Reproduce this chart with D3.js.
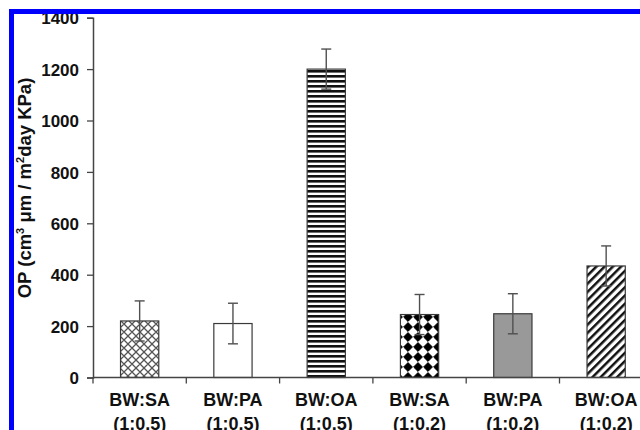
<!DOCTYPE html>
<html>
<head>
<meta charset="utf-8">
<script src="https://cdn.jsdelivr.net/npm/d3@7"></script>
<style>
  html, body { margin: 0; padding: 0; background: #fff; }
  svg { display: block; }
  text { font-family: Arial, "Liberation Sans", sans-serif; font-weight: bold; fill: #111; }
</style>
</head>
<body>
<svg id="chart" width="640" height="430"></svg>
<script>
// Blend ratios and permeability results
const mixtures = ["BW:SA", "BW:PA", "BW:OA", "BW:SA", "BW:PA", "BW:OA"];
const ratios   = ["(1:0.5)", "(1:0.5)", "(1:0.5)", "(1:0.2)", "(1:0.2)", "(1:0.2)"];
const opValues = [220, 210, 1200, 245, 248, 434];
const opErrors = [78, 79, 78, 78, 78, 78];
const fills    = ["url(#crosshatch)", "#ffffff", "url(#hstripes)", "url(#dots)", "#999999", "url(#diag)"];
const yTicks   = [0, 200, 400, 600, 800, 1000, 1200, 1400];

const svg = d3.select("#chart");
const W = 640, H = 430;

// Fill patterns for the bars
const defs = svg.append("defs");

const ch = defs.append("pattern").attr("id", "crosshatch")
  .attr("patternUnits", "userSpaceOnUse").attr("width", 8).attr("height", 8);
ch.append("rect").attr("width", 8).attr("height", 8).attr("fill", "#fff");
ch.append("path").attr("d", "M0,0 L8,8 M8,0 L0,8 M-4,4 L4,12 M4,-4 L12,4 M4,-4 L-4,4 M12,4 L4,12")
  .attr("stroke", "#555").attr("stroke-width", 1.3).attr("fill", "none");

const hs = defs.append("pattern").attr("id", "hstripes")
  .attr("patternUnits", "userSpaceOnUse").attr("width", 10).attr("height", 5);
hs.append("rect").attr("width", 10).attr("height", 5).attr("fill", "#fff");
hs.append("rect").attr("y", 0).attr("width", 10).attr("height", 2.6).attr("fill", "#111");

const dt = defs.append("pattern").attr("id", "dots")
  .attr("patternUnits", "userSpaceOnUse").attr("width", 10).attr("height", 10)
  .attr("x", 3).attr("y", 2);
dt.append("rect").attr("width", 10).attr("height", 10).attr("fill", "#fff");
dt.append("path").attr("d", "M5,0.6 L9.4,5 L5,9.4 L0.6,5 Z").attr("fill", "#000")
  .attr("stroke", "#000").attr("stroke-width", 1).attr("stroke-linejoin", "round");

const dg = defs.append("pattern").attr("id", "diag")
  .attr("patternUnits", "userSpaceOnUse").attr("width", 5.8).attr("height", 10)
  .attr("patternTransform", "rotate(45)");
dg.append("rect").attr("width", 5.8).attr("height", 10).attr("fill", "#fff");
dg.append("rect").attr("x", 0).attr("width", 2.5).attr("height", 10).attr("fill", "#111");

// Scales
const x0 = 93, yBase = 377.5, yTop = 17.7;
const bandW = 93.3;
const x = d3.scaleBand()
  .domain(d3.range(mixtures.length))
  .range([x0, x0 + bandW * mixtures.length])
  .paddingInner(0.59).paddingOuter(0.295);
const y = d3.scaleLinear().domain([0, 1400]).range([yBase, yTop]);

// Bars
svg.append("g").selectAll("rect")
  .data(opValues)
  .join("rect")
  .attr("x", (d, i) => x(i))
  .attr("y", d => y(d))
  .attr("width", x.bandwidth())
  .attr("height", d => yBase - y(d))
  .attr("fill", (d, i) => fills[i])
  .attr("stroke", "#3a3a3a")
  .attr("stroke-width", 1.2);

// Error bars
const eb = svg.append("g").attr("stroke", "#505050").attr("stroke-width", 1.4);
opValues.forEach((v, i) => {
  const cx = x(i) + x.bandwidth() / 2;
  eb.append("line").attr("x1", cx).attr("x2", cx)
    .attr("y1", y(v + opErrors[i])).attr("y2", y(v - opErrors[i]));
  [v + opErrors[i], v - opErrors[i]].forEach(e => {
    eb.append("line").attr("x1", cx - 5).attr("x2", cx + 5)
      .attr("y1", y(e)).attr("y2", y(e));
  });
});

// Y axis
const yAxis = d3.axisLeft(y).tickValues(yTicks).tickFormat(d3.format("d"))
  .tickSize(6).tickPadding(8);
const gy = svg.append("g").attr("transform", `translate(${x0},0)`).call(yAxis);
gy.select(".domain").attr("stroke", "#444").attr("stroke-width", 1.5);
gy.selectAll(".tick line").attr("stroke", "#444").attr("stroke-width", 1.3);
gy.selectAll(".tick text").attr("font-size", 17).attr("font-family", "Arial, 'Liberation Sans', sans-serif")
  .attr("font-weight", "bold").attr("fill", "#111").attr("dy", "0.36em");

// X axis line with boundary ticks
svg.append("line").attr("x1", x0).attr("x2", W + 20)
  .attr("y1", yBase).attr("y2", yBase)
  .attr("stroke", "#444").attr("stroke-width", 1.5);
svg.append("g").selectAll("line")
  .data(d3.range(mixtures.length + 1))
  .join("line")
  .attr("x1", i => x0 + i * bandW).attr("x2", i => x0 + i * bandW)
  .attr("y1", yBase).attr("y2", yBase + 6)
  .attr("stroke", "#444").attr("stroke-width", 1.3);

// Category labels
const lbl = svg.append("g").attr("text-anchor", "middle").attr("font-size", 18);
mixtures.forEach((m, i) => {
  const cx = x0 + (i + 0.5) * bandW;
  lbl.append("text").attr("x", cx).attr("y", 406).text(m);
  lbl.append("text").attr("x", cx).attr("y", 430).text(ratios[i]);
});

// Y axis title
const yt = svg.append("text")
  .attr("transform", "translate(31,188) rotate(-90)")
  .attr("text-anchor", "middle")
  .attr("font-size", 18.5);
yt.append("tspan").text("OP (cm");
yt.append("tspan").attr("font-size", 11).attr("dy", -7).text("3");
yt.append("tspan").attr("dy", 7).text(" μm / m");
yt.append("tspan").attr("font-size", 11).attr("dy", -7).text("2");
yt.append("tspan").attr("dy", 7).text("day KPa)");

// Blue frame
svg.append("path")
  .attr("d", `M11.5,${H + 5} L11.5,11.5 L${W + 5},11.5`)
  .attr("fill", "none").attr("stroke", "#0000ff").attr("stroke-width", 5);
</script>
</body>
</html>
